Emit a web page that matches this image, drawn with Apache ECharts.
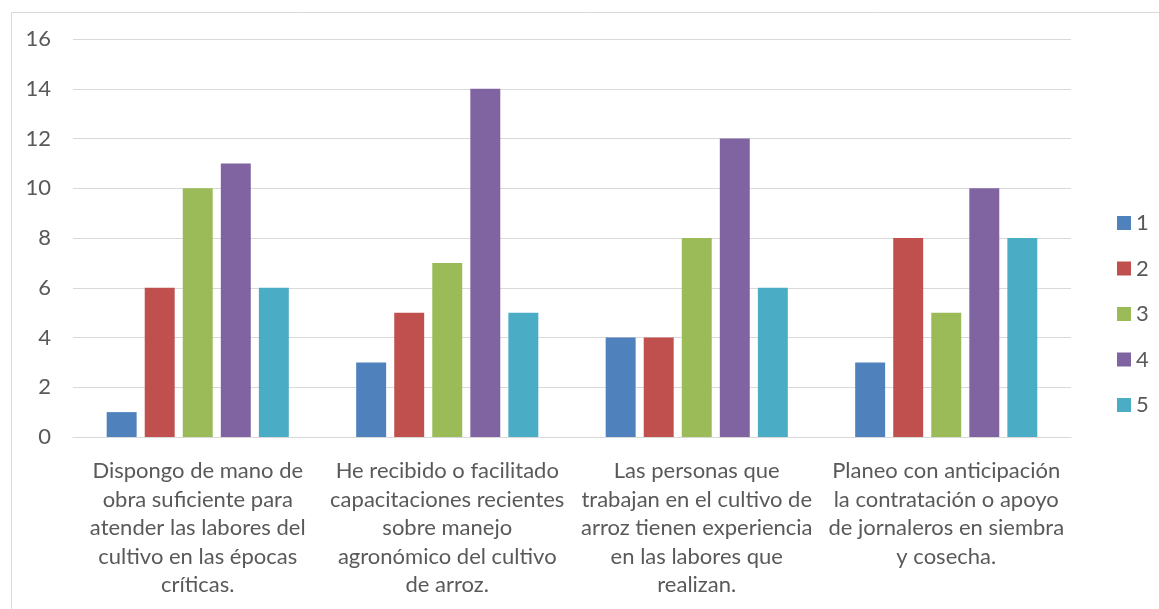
<!DOCTYPE html>
<html><head><meta charset="utf-8">
<script src="https://cdn.jsdelivr.net/npm/echarts@6/dist/echarts.min.js"></script>
<style>html,body{margin:0;padding:0;background:#fff}#c{width:1159px;height:609px}</style>
</head><body><div id="c"></div>
<script>
const categories = [
  "Dispongo de mano de\nobra suficiente para\natender las labores del\ncultivo en las épocas\ncríticas.",
  "He recibido o facilitado\ncapacitaciones recientes\nsobre manejo\nagronómico del cultivo\nde arroz.",
  "Las personas que\ntrabajan en el cultivo de\narroz tienen experiencia\nen las labores que\nrealizan.",
  "Planeo con anticipación\nla contratación o apoyo\nde jornaleros en siembra\ny cosecha."
];
const seriesNames = ["1", "2", "3", "4", "5"];
const s1 = [1, 3, 4, 3];
const s2 = [6, 5, 4, 8];
const s3 = [10, 7, 8, 5];
const s4 = [11, 14, 12, 10];
const s5 = [6, 5, 6, 8];
const colors = ["#4F81BD", "#C0504D", "#9BBB59", "#8064A2", "#4BACC6"];
const allData = [s1, s2, s3, s4, s5];
const font = "Lato, 'Open Sans', sans-serif";
const chart = echarts.init(document.getElementById('c'));
chart.setOption({
  animation: false,
  color: colors,
  graphic: [{type:'rect', left: 9, top: 10, shape:{width:1200, height:700}, style:{fill:'none', stroke:'#d9d9d9', lineWidth:1}, silent:true}],
  grid: {left: 73, right: 88, top: 39, bottom: 172},
  legend: {
    orient: 'vertical', left: 1112, top: 207, itemWidth: 14, itemHeight: 14, itemGap: 23.5,
    icon: 'rect', itemStyle: {borderWidth: 0},
    textStyle: {fontFamily: font, fontSize: 22, color: '#595959'},
    data: seriesNames
  },
  xAxis: {
    type: 'category', data: categories,
    axisLine: {lineStyle: {color: '#d9d9d9'}},
    axisTick: {show: false},
    axisLabel: {fontFamily: font, fontSize: 22, color: '#595959', lineHeight: 28.5, margin: 20, interval: 0}
  },
  yAxis: {
    type: 'value', min: 0, max: 16, interval: 2,
    axisLine: {show: false}, axisTick: {show: false},
    splitLine: {lineStyle: {color: '#d9d9d9'}},
    axisLabel: {fontFamily: font, fontSize: 22, color: '#595959', margin: 22}
  },
  series: seriesNames.map((n, i) => ({
    name: n, type: 'bar', data: allData[i],
    barGap: '27%', barCategoryGap: '27%'
  }))
});
</script></body></html>
